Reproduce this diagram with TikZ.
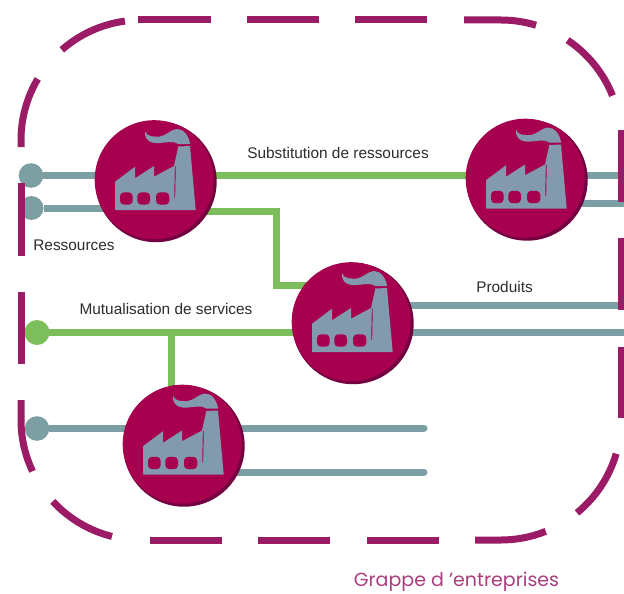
\documentclass[tikz,border=0pt]{standalone}
\usepackage{fontspec}
\setmainfont{Liberation Sans}
\newfontfamily\titlefont{Poppins}
\usetikzlibrary{backgrounds}
\definecolor{framec}{HTML}{9B1B66}
\definecolor{hubc}{HTML}{A6004F}
\definecolor{hubdark}{HTML}{730040}
\definecolor{factc}{HTML}{8299AE}
\definecolor{greyl}{HTML}{7C9FA3}
\definecolor{greenl}{HTML}{7CBE5C}
\definecolor{txtc}{HTML}{2C2C2C}
\tikzset{
  framepart/.style={draw=framec,line width=7pt,line cap=butt},
  hub/.style={circle,minimum size=122pt,inner sep=0pt},
  greyline/.style={draw=greyl,line width=7pt},
  greenline/.style={draw=greenl,line width=7pt},
  dotnode/.style={circle,minimum size=24.5pt,inner sep=0pt},
  lab/.style={font=\fontsize{15.4}{18}\selectfont,text=txtc,inner sep=0pt},
  factory/.pic={
    \fill[hubdark] (0,0) circle (60.7);
    \fill[hubc] (-1.8,-1.8) circle (59.5);
    \fill[factc] (-41,28.5) -- (-41,0.2) -- (-21,-14.8) -- (-21,-3.2) -- (-2,-15.5) -- (-2,-4.8) -- (18,-15.5) -- (22.3,-35) -- (34,-35.5) -- (39.7,28.5) -- cycle;
    \fill[factc] (-11,-50.5) .. controls (-9,-44) and (-2,-45) .. (4,-45) .. controls (10,-46) and (15,-52) .. (20.7,-52.5) .. controls (27,-53) and (33,-46) .. (34,-37.5) -- (22.3,-37.5) .. controls (18,-41) and (10,-39) .. (4,-38.5) .. controls (-3,-37.5) and (-12,-40) .. (-11,-50.5) -- cycle;
    \draw[hubc,line width=0.9pt] (19.3,-15) -- (18.7,16);
    \fill[hubc,rounded corners=4pt] (-36,10.8) rectangle (-23.3,23.2);
    \fill[hubc,rounded corners=4pt] (-18.7,10.8) rectangle (-6,23.2);
    \fill[hubc,rounded corners=4pt] (0,10.8) rectangle (13.3,23.2);
  }
}
\begin{document}
\begin{tikzpicture}[x=1pt,y=-1pt]
\useasboundingbox (0,0) rectangle (624,594);
% hubs
\node[hub] (f1) at (156,181.5) {};
\node[hub] (f2) at (527,180) {};
\node[hub] (f3) at (353,323.5) {};
\node[hub] (f4) at (184,446) {};
% free ends
\node[dotnode] (d1) at (31,175.5) {};
\node[dotnode] (d2) at (31.5,208) {};
\node[dotnode] (d3) at (37,332.5) {};
\node[dotnode] (d4) at (37,428.5) {};
\coordinate (e1) at (618,175);
\coordinate (e2) at (624,203);
\coordinate (e3) at (618,305);
\coordinate (e4) at (624,332.5);
\coordinate (e5) at (424,428);
\coordinate (e6) at (424,472);
\coordinate (k1) at (276,211);
\coordinate (k2) at (276,285);
\coordinate (k3) at (171,332.5);
\begin{scope}[on background layer]
  \fill[greyl] (d1) circle (12.3);
  \fill[greyl] (d2) circle (12);
  \fill[greenl] (d3) circle (12.5);
  \fill[greyl] (d4) circle (12.3);
  \draw[greyline] (d1) -- (d1 -| f1);
  \draw[greyline] (d2) -- (d2 -| f1);
  \draw[greenline] (f1 |- e1) -- (f2 |- e1);
  \draw[greenline] (f1 |- k1) -- (k1) -- (k2) -- (f3 |- k2);
  \draw[greyline] (f2 |- e1) -- (e1);
  \draw[greyline] (f2 |- e2) -- (e2);
  \draw[greyline] (f3 |- e3) -- (e3);
  \draw[greyline] (f3 |- e4) -- (e4);
  \draw[greenline] (d3) -- (f3 |- d3);
  \draw[greenline] (k3) -- (k3 |- f4);
  \draw[greyline] (d4) -- (d4 -| f4);
  \draw[greyline,line cap=round] (f4 |- e5) -- (e5);
  \draw[greyline,line cap=round] (f4 |- e6) -- (e6);
\end{scope}
% hub discs with factory glyphs
\pic at (f1) {factory};
\pic at (f2) {factory};
\pic at (f3) {factory};
\pic at (f4) {factory};
% frame
\draw[framepart] (21,147) -- (21,140) arc[start angle=180,end angle=210.6,radius=120];
\draw[framepart] (141,140) ++(228.7:120) arc[start angle=228.7,end angle=262.3,radius=120];
\draw[framepart] (138,20) -- (211,20);
\draw[framepart] (247,20) -- (319,20);
\draw[framepart] (355,20) -- (427,20);
\draw[framepart] (464,20) -- (501,20) arc[start angle=270,end angle=287,radius=120];
\draw[framepart] (501,140) ++(303.7:120) arc[start angle=303.7,end angle=338.3,radius=120];
\draw[framepart] (621,130) -- (621,202);
\draw[framepart] (621,238) -- (621,310);
\draw[framepart] (621,347) -- (621,418);
\draw[framepart] (501,420) ++(16.3:120) arc[start angle=16.3,end angle=50.7,radius=120];
\draw[framepart] (501,420) ++(68.1:120) arc[start angle=68.1,end angle=90,radius=120] -- (475,540);
\draw[framepart] (367,540) -- (439,540);
\draw[framepart] (258,540) -- (330,540);
\draw[framepart] (150,540) -- (222,540);
\draw[framepart] (141,420) ++(104:120) arc[start angle=104,end angle=137.3,radius=120];
\draw[framepart] (141,420) ++(154.7:120) arc[start angle=154.7,end angle=180,radius=120] -- (21,400);
\draw[framepart] (21,292) -- (21,364);
\draw[framepart] (21,183) -- (21,256);
% labels
\node[lab] (t1) at (338,153) {Substitution de ressources};
\node[lab] (t2) at (74,245) {Ressources};
\node[lab] (t3) at (166,309) {Mutualisation de services};
\node[lab] (t4) at (504.5,287) {Produits};
\node[inner sep=0pt,text=framec!85!white,font=\titlefont\fontsize{19}{22}\selectfont] (t5) at (456.5,582) {Grappe d ’entreprises};
\end{tikzpicture}
\end{document}
